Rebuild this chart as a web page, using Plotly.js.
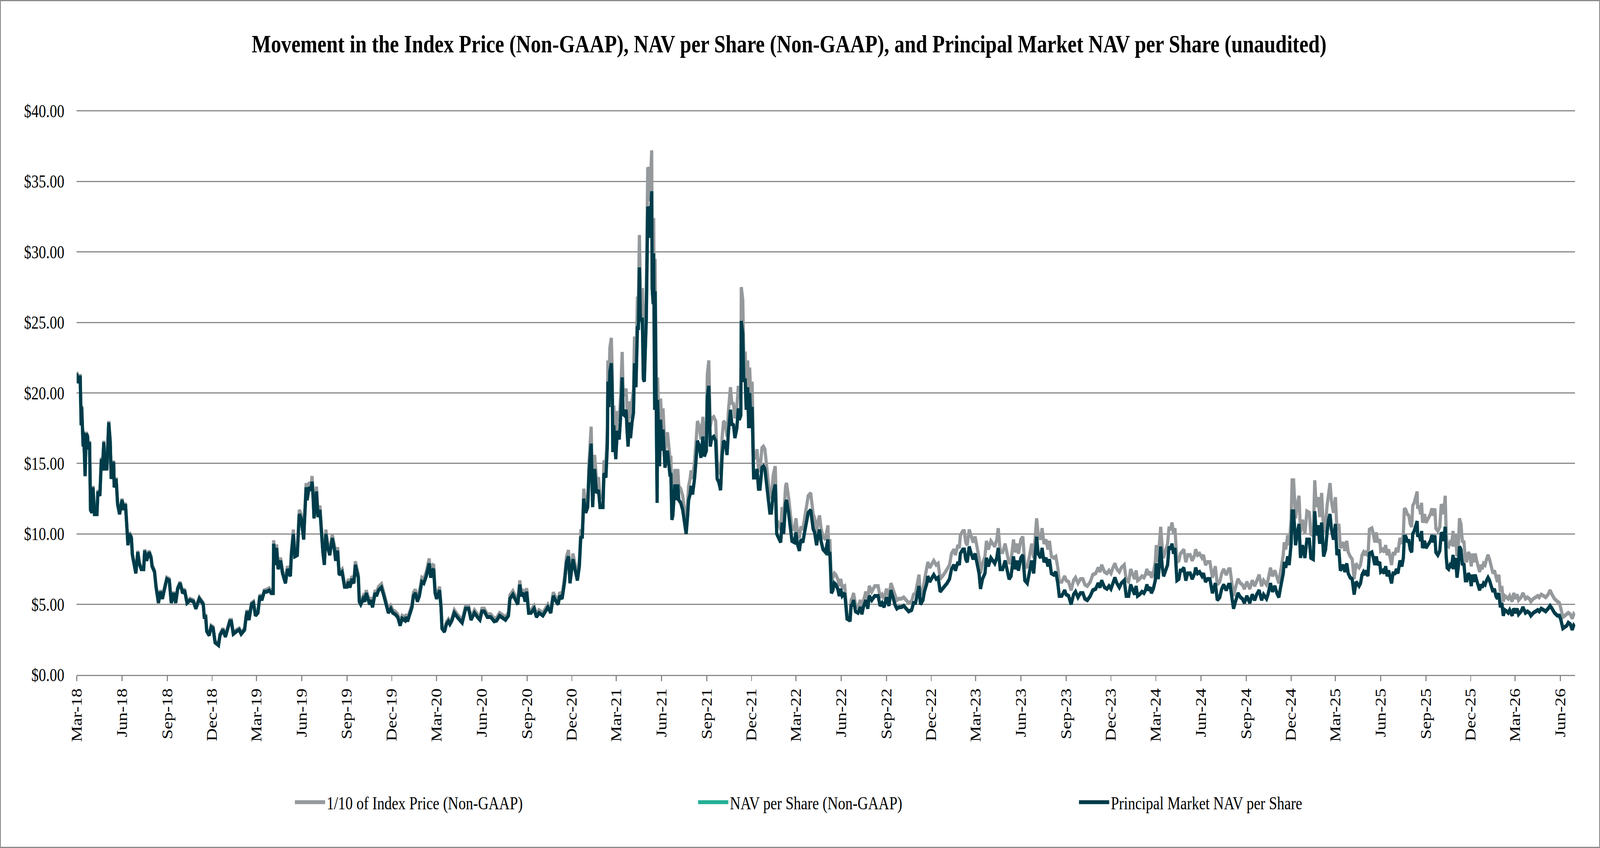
<!DOCTYPE html>
<html>
<head>
<meta charset="utf-8">
<script src="https://cdn.plot.ly/plotly-3.0.1.min.js"></script>
<style>
  html, body { margin: 0; padding: 0; background: #ffffff; overflow: hidden; }
  #wrap { position: absolute; left: 0; top: 0; width: 5024px; height: 2170px; transform-origin: 0 0; }
  #chart { position: absolute; left: 0; top: 0; width: 5024px; height: 2170px; box-sizing: border-box; border: 3px solid #898989; background: #ffffff; }
</style>
</head>
<body>
<div id="wrap"><div id="chart"></div></div>
<script>
// Day offsets from 2018-03-01 (x categories)
const startDate = '2018-03-01';
const endDate = '2026-07-01';
const dayOffset = [
0,1,4,7,9,10,13,14,17,19,22,23,26,28,31,33,36,41,43,47,50,52,55,57,59,61,65,68,70,75,76,80,83,87,92,95,99,102,104,107,111,113,117,120,124,127,131,136,138,142,147,151,153,158,161,166,170,174,179,183,188,192,197,201,205,210,215,219,224,230,237,242,249,257,259,262,264,269,273,277,281,288,291,297,302,305,311,314,318,325,330,334,341,344,346,350,355,359,363,368,372,376,381,386,391,395,399,400,404,406,409,414,418,424,428,434,436,440,443,448,452,456,461,463,466,468,472,476,478,480,482,487,490,494,497,500,503,506,510,514,519,523,526,530,533,539,544,549,
552,555,559,563,566,569,572,574,577,582,585,588,591,595,597,601,606,609,613,619,624,627,631,633,638,642,647,652,657,661,667,669,672,676,681,684,688,692,696,701,705,710,713,716,719,722,725,728,731,737,740,742,747,751,755,758,762,767,773,778,783,790,796,801,808,814,819,823,828,834,841,848,853,859,866,871,877,880,886,891,896,900,903,907,911,914,918,923,929,934,939,947,952,957,963,968,974,978,981,986,991,995,999,1002,1008,1013,1017,1021,1024,1027,1030,1034,1038,1041,1045,1048,1052,1056,1060,1063,1069,1071,1075,
1078,1079,1081,1083,1086,1088,1089,1091,1095,1098,1102,1105,1108,1110,1113,1116,1118,1120,1123,1125,1128,1131,1133,1136,1139,1141,1143,1145,1149,1151,1153,1155,1157,1160,1162,1164,1166,1168,1169,1171,1172,1174,1175,1177,1179,1180,1184,1186,1189,1191,1195,1200,1205,1207,1209,1211,1215,1218,1221,1223,1227,1231,1234,1238,1241,1243,1246,1248,1251,1255,1258,1261,1265,1268,1272,1275,1279,1281,1284,1287,1290,1294,1298,1301,1304,1308,1311,1314,1318,1321,1324,1328,1331,1334,1337,1341,1344,1346,1349,1350,1353,1355,1358,1360,1363,1365,1367,1370,1372,1375,1379,1382,1385,1388,1392,1395,1398,1402,1405,1408,1411,1415,1419,1422,1426,1430,1433,1436,1440,1442,1446,1450,1453,1458,1461,1464,1468,1471,1475,1479,1482,1486,1491,1493,
1496,1499,1503,1506,1509,1512,1516,1521,1523,1526,1527,1530,1532,1533,1536,1539,1542,1546,1549,1552,1555,1560,1562,1565,1568,1571,1573,1576,1578,1582,1587,1592,1595,1598,1603,1607,1610,1615,1621,1628,1632,1636,1640,
1645,1650,1654,1659,1662,1666,1670,1675,1680,1685,1690,1696,1700,1704,1708,1711,1714,1719,1722,1727,1729,1733,1736,1741,1746,1750,1754,1759,1763,1768,1773,1777,1782,1785,1790,1793,1795,1800,1803,1806,1809,1813,1817,1821,1825,1829,1833,1836,1840,1845,1848,1852,1857,1861,1865,1869,1872,1876,1881,1886,1890,1894,1898,1903,1906,1910,1913,1918,1922,1926,1931,1935,1940,1944,1948,1950,1953,1958,1961,1965,1969,1973,1976,1980,1985,1989,1993,1996,2001,2007,2010,2015,2020,2025,2029,2034,2039,2044,2048,2053,2059,2064,2070,2075,2079,2082,2088,2093,2097,2101,2105,2109,2113,2118,2122,
2128,2132,2137,2141,2145,2149,2152,2155,2159,2164,2168,2171,2174,2177,2181,2183,2187,2191,2193,2197,2199,2202,2205,2208,2212,2216,2219,2222,2225,2228,2231,2235,2239,2242,2245,2249,2253,2257,2262,2266,2271,2273,2277,2281,2286,2289,2293,2297,2302,2307,2313,2317,2322,2326,2330,2335,2340,2343,2347,2350,2354,2359,2364,2368,2372,2377,2383,2388,2393,2397,2402,2407,2411,2417,2420,2425,2429,2434,2438,2442,2445,2451,2453,2456,2460,2463,2467,2469,2472,2476,2479,2483,2486,2490,2495,2499,2504,2507,2512,2515,2518,2522,2525,2529,2533,2537,2540,2543,2546,2549,2553,2557,2560,2564,2567,2573,2576,2580,2583,2587,2591,
2595,2599,2602,2605,2608,2611,2614,2617,2620,2623,2626,2631,2634,2637,2640,2643,2647,2649,2653,2656,2659,2662,2665,2668,2671,2674,2678,2681,2684,2688,2692,2695,2697,2700,2703,2706,2709,2712,2714,2717,2720,2723,2724,2727,2730,2732,2734,2738,2741,2744,2747,2750,2753,2756,2759,2761,2765,2769,2772,2775,2777,2780,2782,2784,2787,2790,2793,2796,2799,2801,2804,2807,2809,2812,2815,2818,2821,2824,2827,2830,2833,2835,2838,2841,2844,2847,2850,2852,2855,2858,2861,2864,2867,2870,2874,2877,2880,2883,2886,2889,2892,2895,2898,2901,2905,2908,2911,2916,2919,2923,2926,2929,2934,2938,2943,2947,2951,2954,2959,2963,2968,2971,2975,2980,2984,2989,2993,2997,3002,3008,3012,3015,3019,3023,3027,3030,3034,3038,3041,3043
];

// Principal Market NAV per Share (dark line); NAV per Share (Non-GAAP) coincides with it
const principalNav = [
21.4,20.7,21.1,21.1,17.7,19.0,16.2,17.2,14.1,17.1,16.9,16.0,16.5,11.7,11.5,13.3,11.4,11.4,13.0,12.7,15.3,14.5,16.5,14.5,15.3,14.5,17.9,16.5,13.9,15.1,13.3,13.9,12.1,11.4,12.4,11.7,12.1,10.0,9.2,10.0,9.7,8.5,7.8,7.2,8.7,7.9,7.5,7.5,8.8,8.1,8.7,8.3,7.7,7.3,6.25,5.1,5.9,5.4,6.2,6.8,6.7,5.1,5.8,5.1,6.1,6.5,5.8,6.0,5.1,5.3,5.2,4.7,5.4,5.0,4.1,4.1,3.1,2.8,3.4,3.3,2.3,2.1,2.8,3.2,2.7,3.1,3.8,3.8,2.9,3.1,3.2,2.9,3.2,4.1,4.5,3.9,5.0,5.1,4.2,4.4,5.6,5.3,5.9,5.9,6.0,5.8,5.8,9.3,7.8,9.0,7.5,8.1,7.2,6.5,7.5,7.0,8.5,10.0,8.4,8.5,11.4,11.1,9.6,11.1,13.3,12.4,13.3,13.1,13.7,12.7,11.1,13.0,11.2,11.7,9.9,8.7,7.8,10.0,9.0,8.5,9.7,9.0,8.1,8.8,7.1,7.3,6.25,6.25,
6.6,6.2,6.8,6.5,7.8,7.4,6.9,5.2,5.0,5.4,5.2,5.8,5.4,5.0,5.3,4.8,5.8,5.6,6.0,6.2,5.6,5.2,4.7,4.4,4.7,4.4,4.3,4.1,3.5,4.0,3.85,4.1,3.8,4.2,4.8,5.6,5.8,5.2,5.6,6.6,6.5,7.0,7.4,7.9,6.9,7.4,7.5,5.8,5.4,6.0,4.8,3.3,3.05,3.6,3.8,3.6,3.85,4.4,4.1,3.9,3.7,4.7,4.7,3.9,4.4,4.1,3.9,4.5,4.5,4.1,4.1,3.8,3.85,4.2,4.0,3.9,4.2,5.4,5.7,5.4,5.0,6.4,5.6,5.8,5.2,5.9,4.4,4.4,4.7,4.1,4.4,4.2,4.5,4.8,4.4,5.6,5.2,5.0,5.6,5.4,6.6,8.0,8.4,6.5,8.2,7.2,6.7,7.7,9.8,9.7,12.5,11.5,11.9,14.5,16.4,11.9,14.6,12.9,13.1,11.9,11.9,14.3,14.0,
16.4,20.8,19.0,21.5,22.1,19.7,15.8,17.7,15.3,17.3,16.7,18.4,21.1,18.5,18.4,18.8,17.3,16.2,17.9,16.8,17.9,18.6,22.1,20.4,24.6,24.6,28.9,25.2,25.2,21.0,20.8,23.2,25.2,33.2,33.0,31.0,33.6,34.3,27.4,26.3,29.9,18.8,27.2,18.8,12.2,19.5,14.8,18.1,15.9,17.4,14.7,15.9,14.2,14.2,11.0,11.3,13.5,12.4,13.5,12.4,12.2,11.7,10.8,10.0,11.3,12.4,12.8,13.4,12.8,13.9,15.2,16.6,16.2,15.4,16.9,15.5,15.9,19.7,20.5,16.2,16.8,16.9,16.6,13.9,13.7,13.1,15.5,16.6,16.4,15.6,17.3,18.8,17.7,17.8,16.8,17.5,18.9,18.1,18.4,25.1,24.2,20.9,20.9,18.8,20.4,17.5,20.0,17.5,19.0,14.0,14.0,14.6,13.2,13.2,14.7,14.8,14.6,13.3,12.6,11.5,11.5,12.9,13.5,10.0,9.7,9.4,10.8,10.0,12.2,12.4,11.5,10.4,9.5,9.4,10.1,9.3,8.8,9.6,9.4,10.2,10.8,11.5,11.7,11.2,
10.35,10.1,9.2,9.9,10.3,9.5,8.9,8.7,9.2,9.6,8.6,8.6,6.9,5.8,6.0,6.5,6.4,6.1,5.6,6.1,5.6,5.8,5.1,3.9,4.0,3.8,4.9,5.0,5.3,4.5,4.4,4.8,4.3,4.8,5.3,4.7,5.6,5.3,5.6,5.6,4.9,5.1,4.8,
5.5,4.9,6.0,5.4,5.0,4.7,4.8,4.8,4.9,4.7,4.5,4.6,5.1,5.1,5.7,6.3,5.0,5.3,5.9,6.5,7.0,6.6,6.8,7.1,6.8,6.9,5.9,6.1,6.3,6.5,6.8,7.5,7.8,7.4,8.0,7.8,8.6,8.9,8.9,8.2,8.0,9.1,8.6,8.2,8.6,7.8,7.2,6.1,6.8,7.2,8.3,7.7,8.3,8.1,7.9,8.3,9.0,7.5,7.5,8.1,7.4,6.8,7.0,8.4,7.5,8.1,7.4,8.3,8.5,6.7,6.5,7.2,8.1,7.2,8.9,9.8,8.6,8.3,9.0,8.0,8.3,7.7,8.2,7.2,7.1,7.3,6.5,5.6,5.6,6.0,5.7,5.6,5.0,5.7,5.9,5.5,5.8,5.8,5.4,5.3,5.6,6.0,6.1,6.5,6.2,6.7,6.2,6.1,6.3,6.1,6.5,6.9,6.5,6.2,6.5,
6.7,5.6,5.6,6.4,6.0,5.7,6.3,5.6,5.7,5.9,5.8,6.0,6.4,6.0,6.2,5.8,6.1,6.7,7.9,6.8,7.7,9.1,7.7,7.0,7.4,7.8,9.1,8.9,9.3,8.6,9.0,6.7,6.8,7.4,7.4,7.6,6.7,7.2,7.2,6.8,7.2,7.6,7.2,7.3,7.0,7.2,6.6,6.8,6.8,5.8,6.5,5.3,5.5,6.1,6.4,6.0,6.4,6.4,5.4,4.7,5.2,5.8,5.5,5.4,5.1,5.6,5.1,5.7,5.3,5.7,6.0,5.3,5.7,5.4,5.7,6.5,5.9,6.3,5.8,5.5,6.1,7.2,8.0,7.6,8.4,7.8,9.3,11.6,11.6,9.2,10.0,10.7,8.3,9.2,8.3,9.6,9.6,8.3,8.2,11.6,9.9,10.6,9.3,10.8,8.4,8.9,10.1,11.0,11.4,10.3,9.6,10.7,8.5,8.9,7.4,7.8,7.3,7.9,7.2,6.9,6.8,
5.7,6.6,6.4,6.3,6.5,7.1,7.3,7.1,7.4,7.0,8.6,8.7,8.3,7.8,8.4,7.8,8.0,7.3,7.4,7.2,7.7,7.0,7.4,6.9,6.5,7.2,7.2,7.5,7.2,8.1,7.7,8.3,9.8,9.8,9.5,9.5,8.9,8.7,10.0,10.2,10.5,10.9,9.8,10.0,9.5,10.2,9.0,9.5,9.0,9.2,9.4,9.5,9.9,9.4,9.9,8.7,8.5,8.8,10.1,9.9,9.5,10.5,8.4,7.6,7.5,7.8,7.7,8.5,7.5,8.3,6.9,7.8,9.1,8.9,7.8,7.9,6.7,6.7,7.2,7.0,6.3,7.1,6.6,7.1,6.7,6.3,6.0,6.4,6.2,6.5,6.4,6.7,6.9,6.7,6.1,5.9,6.1,5.6,5.4,5.8,4.8,5.1,4.2,4.6,4.5,4.4,4.6,4.2,4.7,4.4,4.7,4.3,4.5,4.8,4.4,4.5,4.4,4.2,4.4,4.5,4.6,4.5,4.7,4.6,4.5,4.7,4.9,4.7,4.4,4.2,4.2,3.9,3.3,3.4,3.5,3.7,3.6,3.2,3.5,3.4
];
const navPerShare = principalNav;

// 1/10 of Index Price (Non-GAAP) (gray line)
const indexTenth = [
21.5,20.8,21.2,21.2,17.8,19.1,16.3,17.3,14.2,17.2,17.0,16.1,16.6,11.8,11.6,13.4,11.5,11.5,13.1,12.8,15.4,14.6,16.6,14.6,15.4,14.6,18.0,16.6,14.0,15.2,13.4,14.0,12.2,11.5,12.5,11.8,12.2,10.1,9.3,10.1,9.8,8.6,7.9,7.3,8.8,8.0,7.6,7.6,8.9,8.2,8.8,8.4,7.8,7.4,6.35,5.2,6.0,5.5,6.3,6.9,6.8,5.2,5.9,5.2,6.2,6.6,5.9,6.1,5.2,5.4,5.3,4.8,5.5,5.1,4.2,4.2,3.2,2.9,3.5,3.4,2.4,2.2,2.9,3.3,2.8,3.2,3.9,3.9,3.0,3.2,3.3,3.0,3.3,4.2,4.6,4.0,5.1,5.2,4.3,4.5,5.7,5.4,6.0,6.05,6.15,5.95,5.95,9.55,8.0,9.25,7.7,8.3,7.4,6.7,7.7,7.2,8.75,10.3,8.65,8.75,11.7,11.4,9.9,11.4,13.6,12.7,13.65,13.45,14.1,13.05,11.4,13.35,11.5,12.0,10.2,8.95,8.0,10.3,9.25,8.75,9.95,9.25,8.35,9.05,7.3,7.5,6.45,6.45,
6.8,6.4,7.0,6.7,8.05,7.65,7.1,5.4,5.2,5.6,5.4,6.0,5.6,5.2,5.5,5.0,6.0,5.8,6.25,6.45,5.8,5.4,4.9,4.6,4.9,4.6,4.5,4.3,3.7,4.2,4.05,4.3,4.0,4.4,5.0,5.85,6.05,5.45,5.85,6.9,6.8,7.3,7.75,8.25,7.2,7.75,7.85,6.05,5.65,6.25,5.0,3.45,3.2,3.75,3.95,3.75,4.0,4.6,4.3,4.1,3.9,4.9,4.9,4.1,4.6,4.3,4.1,4.7,4.7,4.3,4.3,4.0,4.05,4.4,4.2,4.1,4.4,5.65,5.95,5.65,5.25,6.7,5.85,6.05,5.45,6.15,4.6,4.6,4.9,4.3,4.6,4.4,4.7,5.0,4.6,5.85,5.45,5.25,5.85,5.65,6.95,8.4,8.85,6.85,8.6,7.6,7.05,8.1,10.3,10.2,13.2,12.1,12.5,15.3,17.6,12.7,15.6,13.8,14.0,12.6,12.6,15.2,15.0,
17.6,22.3,20.4,23.2,23.9,21.3,17.1,19.1,16.5,18.7,18.0,19.9,22.9,20.0,19.9,20.3,18.7,17.5,19.4,18.2,19.4,20.2,24.0,22.1,26.7,26.7,31.2,27.3,27.3,22.8,22.6,25.2,27.3,36.0,35.8,33.6,36.5,37.2,29.7,28.5,32.4,20.4,29.5,20.4,13.2,21.1,16.0,19.6,17.2,18.9,15.9,17.2,15.4,15.4,11.9,12.2,14.6,13.4,14.6,13.4,13.2,12.7,11.7,10.8,12.2,13.4,13.9,14.5,13.9,15.1,16.5,18.0,17.6,16.7,18.3,16.8,17.2,21.3,22.3,17.6,18.2,18.3,18.0,15.1,14.9,14.2,16.8,18.0,17.8,16.9,18.8,20.4,19.2,19.3,18.2,19.0,20.5,19.6,20.0,27.5,26.6,22.8,22.8,20.5,22.3,19.1,21.8,19.1,20.8,15.4,15.4,16.0,14.5,14.5,16.1,16.2,16.0,14.6,13.8,12.6,12.6,14.2,14.8,11.0,10.7,10.3,11.9,11.0,13.4,13.6,12.6,11.4,10.4,10.3,11.1,10.2,9.7,10.5,10.3,11.2,11.9,12.7,12.9,12.3,
11.4,11.1,10.1,10.9,11.3,10.4,9.8,9.6,10.1,10.6,9.5,9.5,7.5,6.5,6.9,7.2,7.1,6.8,6.3,6.8,6.2,6.3,5.5,4.1,4.2,4.0,5.3,5.5,5.8,5.0,4.8,5.3,4.8,5.3,5.9,5.3,6.3,5.9,6.3,6.3,5.5,5.7,5.4,
6.1,5.5,6.5,6.0,5.6,5.3,5.4,5.4,5.5,5.3,5.1,5.2,5.7,5.8,6.4,7.1,5.7,6.0,6.7,7.5,8.0,7.6,7.8,8.1,7.8,7.9,6.8,7.0,7.2,7.5,7.8,8.6,8.9,8.5,9.2,9.0,9.9,10.2,10.2,9.4,9.2,10.3,9.8,9.4,9.8,8.9,8.3,7.2,7.9,8.4,9.5,8.9,9.5,9.3,9.1,9.6,10.4,8.7,8.7,9.3,8.5,7.9,8.1,9.6,8.7,9.3,8.6,9.6,9.8,7.8,7.6,8.3,9.3,8.3,10.3,11.1,10.0,9.6,10.4,9.3,9.6,8.9,9.5,8.4,8.3,8.4,7.6,6.6,6.6,7.0,6.7,6.6,6.0,6.7,6.9,6.5,6.8,6.8,6.4,6.3,6.6,7.1,7.2,7.6,7.3,7.8,7.3,7.2,7.4,7.2,7.6,7.9,7.5,7.3,7.6,
7.8,6.7,6.6,7.5,7.1,6.8,7.4,6.7,6.8,7.0,6.9,7.1,7.5,7.1,7.3,6.9,7.2,8.0,9.2,8.0,9.1,10.5,9.1,8.3,8.8,9.3,10.5,10.3,10.8,10.0,10.4,8.0,8.1,8.6,8.7,8.9,8.0,8.5,8.5,8.1,8.5,8.9,8.5,8.6,8.3,8.5,7.8,8.0,8.0,6.9,7.7,6.4,6.6,7.2,7.5,7.1,7.5,7.5,6.4,5.6,6.2,6.8,6.5,6.4,6.1,6.6,6.1,6.7,6.3,6.7,7.1,6.3,6.7,6.4,6.7,7.6,7.0,7.4,6.9,6.5,7.2,8.5,9.4,8.9,9.9,9.2,11.0,13.8,13.8,11.1,12.0,12.7,10.1,11.0,10.0,11.6,11.5,10.0,9.9,13.8,11.9,12.6,11.2,12.9,10.1,10.7,12.0,13.0,13.6,12.3,11.5,12.6,10.3,10.7,9.0,9.4,8.8,9.5,8.7,8.4,8.2,
6.8,7.9,7.7,7.6,7.8,8.5,8.7,8.5,8.8,8.4,10.3,10.4,10.0,9.4,10.1,9.4,9.6,8.8,8.9,8.7,9.2,8.5,8.9,8.3,7.8,8.6,8.6,9.0,8.7,9.7,9.3,10.0,11.8,11.7,11.4,11.3,10.7,10.5,12.0,12.2,12.6,13.0,11.8,12.0,11.4,12.2,10.8,11.4,10.8,11.0,11.2,11.4,11.8,11.3,11.8,10.4,10.2,10.5,12.1,11.8,11.4,12.7,10.1,9.2,9.1,9.4,9.3,10.2,9.1,10.0,8.4,9.4,11.1,10.7,9.4,9.5,8.1,8.1,8.7,8.5,7.7,8.6,8.0,8.6,8.1,7.7,7.3,7.8,7.5,7.9,7.8,8.2,8.5,8.2,7.5,7.2,7.4,6.9,6.6,7.1,5.9,6.3,5.2,5.6,5.5,5.4,5.6,5.2,5.8,5.4,5.7,5.3,5.5,5.8,5.4,5.5,5.4,5.2,5.4,5.5,5.6,5.5,5.7,5.6,5.5,5.7,6.0,5.7,5.4,5.2,5.1,4.7,4.1,4.2,4.3,4.4,4.3,4.0,4.3,4.2
];

const seriesNames = ['1/10 of Index Price (Non-GAAP)', 'NAV per Share (Non-GAAP)', 'Principal Market NAV per Share'];
const seriesColors = ['#95999C', '#23AF94', '#003B4A'];
const yTickVals = [0, 5, 10, 15, 20, 25, 30, 35, 40];
const chartTitle = 'Movement in the Index Price (Non-GAAP), NAV per Share (Non-GAAP), and Principal Market NAV per Share (unaudited)';

const t0 = Date.UTC(2018, 2, 1);
const dates = dayOffset.map(d => new Date(t0 + d * 86400000).toISOString().slice(0, 10));

// The chart is laid out at the reference size (5024 x 2170) and the whole
// drawing is then fitted to the actual window.
const VW = window.innerWidth || 5024;
const VH = window.innerHeight || 2170;
document.getElementById('wrap').style.transform = 'scale(' + (VW / 5024) + ',' + (VH / 2170) + ')';

const FONT = '"Liberation Serif", "Times New Roman", Times, serif';

const traces = [
  { x: dates, y: indexTenth, name: seriesNames[0], legend: 'legend', type: 'scatter', mode: 'lines',
    line: { color: seriesColors[0], width: 10 } },
  { x: dates, y: navPerShare, name: seriesNames[1], legend: 'legend2', type: 'scatter', mode: 'lines',
    line: { color: seriesColors[1], width: 10 } },
  { x: dates, y: principalNav, name: seriesNames[2], legend: 'legend3', type: 'scatter', mode: 'lines',
    line: { color: seriesColors[2], width: 10 } }
];

const legendBase = {
  orientation: 'h', yanchor: 'middle', xanchor: 'left', y: -0.2255,
  font: { family: FONT, size: 46, color: '#000000' },
  bgcolor: 'rgba(0,0,0,0)', itemwidth: 95, borderwidth: 0
};

const layout = {
  width: 5018, height: 2164,
  paper_bgcolor: '#ffffff', plot_bgcolor: '#ffffff',
  margin: { l: 238, r: 75, t: 279, b: 440, pad: 0 },
  font: { family: FONT, size: 46, color: '#000000' },
  title: {
    text: chartTitle,
    font: { family: FONT, size: 64, color: '#000000', weight: 700 },
    xref: 'container', yref: 'container', x: 0.4932, xanchor: 'center', y: 0.950, yanchor: 'middle'
  },
  xaxis: {
    type: 'date',
    range: [startDate, endDate],
    tick0: startDate, dtick: 'M3', tickformat: '%b-%y', tickangle: -90,
    ticks: 'outside', ticklen: 13, tickwidth: 3, tickcolor: '#898989',
    showline: true, linecolor: '#898989', linewidth: 3,
    showgrid: false, zeroline: false,
    tickfont: { family: FONT, size: 46, color: '#000000' }
  },
  yaxis: {
    range: [0, 40.05], tickvals: yTickVals, tickformat: '$.2f',
    showgrid: true, gridcolor: '#898989', gridwidth: 3,
    showline: false, zeroline: false, ticks: '', ticklabelstandoff: 38,
    tickfont: { family: FONT, size: 46, color: '#000000' }
  },
  showlegend: true,
  legend: Object.assign({}, legendBase, { x: 0.1445 }),
  legend2: Object.assign({}, legendBase, { x: 0.4136 }),
  legend3: Object.assign({}, legendBase, { x: 0.6678 })
};

Plotly.newPlot('chart', traces, layout, { displayModeBar: false, staticPlot: true });
</script>
</body>
</html>
